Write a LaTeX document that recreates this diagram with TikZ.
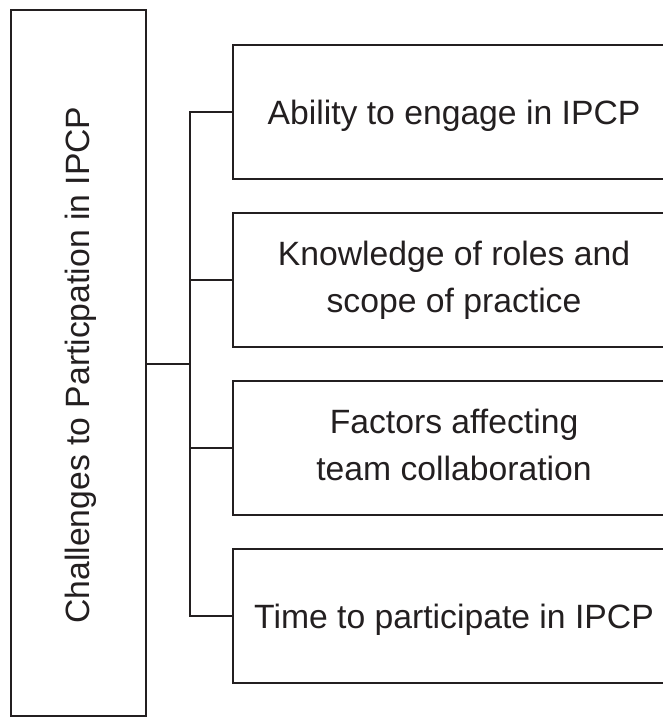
\documentclass[tikz,border=0pt]{standalone}
\usepackage{fontspec}
\setmainfont{Liberation Sans}
\definecolor{ink}{RGB}{35,31,32}
\begin{document}
\begin{tikzpicture}[x=1pt,y=-1pt,
  every node/.style={font=\fontsize{33.7}{47}\selectfont, text=ink},
  frame/.style={draw=ink, line width=2pt, inner sep=0pt, align=center},
  catbox/.style={frame, minimum width=442pt, minimum height=134pt},
  oneline/.style={catbox, text depth=0pt},
  link/.style={draw=ink, line width=2pt}]
\useasboundingbox (0,0) rectangle (663,717);

% main category (tall box on the left)
\node[frame, minimum width=135pt, minimum height=706pt] (main) at (78.5,363) {};
\node[rotate=90, inner sep=0pt] (maintext) at (81,365) {Challenges to Particpation in IPCP};

% sub-categories
\node[oneline] (b1) at (454,112) {Ability to engage in IPCP};
\node[catbox] (b2) at (454,280) {Knowledge of roles and\\scope of practice};
\node[catbox] (b3) at (454,448) {Factors affecting\\team collaboration\vphantom{p}};
\node[oneline] (b4) at (454,616) {Time to participate in IPCP};

% bracket connectors
\coordinate (hub) at (190,364);
\path[link] (main.east |- hub) -- (hub);
\path[link] (b1.west) -- (hub |- b1.west) -- (hub |- b4.west) -- (b4.west);
\path[link] (hub |- b2.west) -- (b2.west);
\path[link] (hub |- b3.west) -- (b3.west);
\end{tikzpicture}
\end{document}
